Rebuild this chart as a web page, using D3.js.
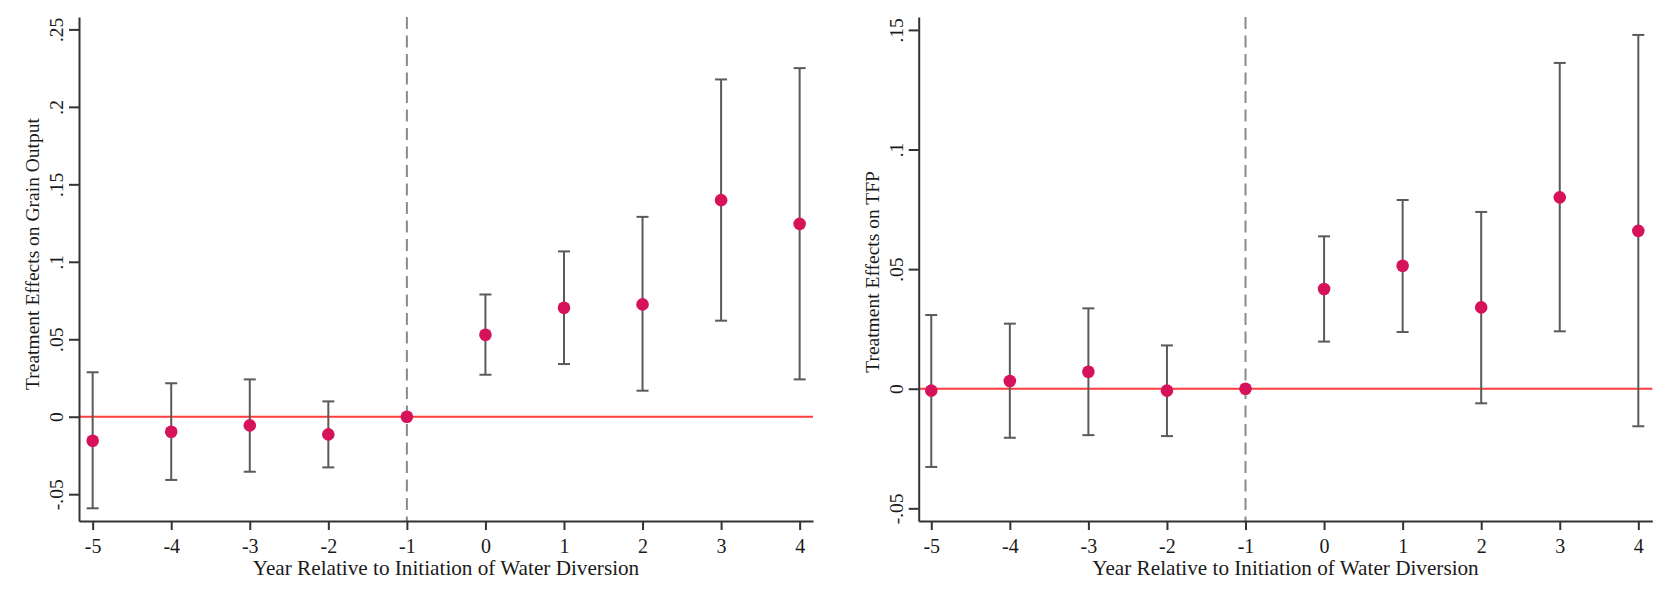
<!DOCTYPE html>
<html>
<head>
<meta charset="utf-8">
<script src="https://cdn.jsdelivr.net/npm/d3@7"></script>
<style>
  html, body { margin: 0; padding: 0; background: #fff; }
  svg { display: block; }
  text { font-family: "Liberation Serif", "Times New Roman", serif; fill: #1a1a1a; }
</style>
</head>
<body>
<svg id="chart" width="1669" height="600"></svg>
<script>
// ---------- DATA ----------
const years = [-5, -4, -3, -2, -1, 0, 1, 2, 3, 4];

const grainEst = [-0.0155, -0.0097, -0.0056, -0.0114, 0, 0.0529, 0.0703, 0.0725, 0.1398, 0.1245];
const grainLo  = [-0.0591, -0.0408, -0.0355, -0.0327, null, 0.0271, 0.0340, 0.0168, 0.0620, 0.0241];
const grainHi  = [ 0.0287,  0.0216,  0.0241,  0.0099, null, 0.0789, 0.1067, 0.1290, 0.2177, 0.2250];

const tfpEst = [-0.0008, 0.0032, 0.0071, -0.0008, 0, 0.0417, 0.0514, 0.0340, 0.0800, 0.0660];
const tfpLo  = [-0.0327, -0.0205, -0.0194, -0.0198, null, 0.0197, 0.0237, -0.0061, 0.0240, -0.0157];
const tfpHi  = [ 0.0308,  0.0272,  0.0336,  0.0181, null, 0.0637, 0.0789, 0.0739, 0.1362, 0.1479];

const grainTicks = [-0.05, 0, 0.05, 0.1, 0.15, 0.2, 0.25];
const tfpTicks   = [-0.05, 0, 0.05, 0.1, 0.15];

const xTitle = "Year Relative to Initiation of Water Diversion";
const grainTitle = "Treatment Effects on Grain Output";
const tfpTitle = "Treatment Effects on TFP";
const refYear = -1;

// ---------- DRAW ----------
const svg = d3.select("#chart");
const FONT = "Liberation Serif, Times New Roman, serif";

function fmtY(v) {
  if (Math.abs(v) < 1e-12) return "0";
  let s = String(+v.toFixed(3));
  return s.replace(/^(-?)0\./, "$1.");
}

function panel(cfg) {
  const g = svg.append("g");
  const x = d3.scaleLinear().domain(cfg.xDomain).range([cfg.left, cfg.right]);
  const y = d3.scaleLinear().domain(cfg.yDomain).range([cfg.bottom, cfg.top]);

  // y = 0 reference line
  g.append("line")
    .attr("x1", cfg.left).attr("x2", cfg.right)
    .attr("y1", y(0)).attr("y2", y(0))
    .attr("stroke", "#ff3b3b").attr("stroke-width", 2);

  // dashed vertical line at reference year
  g.append("line")
    .attr("x1", x(refYear)).attr("x2", x(refYear))
    .attr("y1", cfg.top).attr("y2", cfg.bottom)
    .attr("stroke", "#8a8a8a").attr("stroke-width", 2)
    .attr("stroke-dasharray", "12,6.5");

  // error bars
  const ci = years.map((yr, i) => ({yr, lo: cfg.lo[i], hi: cfg.hi[i]})).filter(d => d.lo != null);
  const eb = g.append("g").attr("stroke", "#5a5a5a").attr("stroke-width", 2);
  eb.selectAll("line.v").data(ci).join("line")
    .attr("x1", d => x(d.yr)).attr("x2", d => x(d.yr))
    .attr("y1", d => y(d.lo)).attr("y2", d => y(d.hi));
  eb.selectAll("line.hi").data(ci).join("line")
    .attr("x1", d => x(d.yr) - 6).attr("x2", d => x(d.yr) + 6)
    .attr("y1", d => y(d.hi)).attr("y2", d => y(d.hi));
  eb.selectAll("line.lo").data(ci).join("line")
    .attr("x1", d => x(d.yr) - 6).attr("x2", d => x(d.yr) + 6)
    .attr("y1", d => y(d.lo)).attr("y2", d => y(d.lo));

  // points
  g.selectAll("circle").data(years.map((yr, i) => ({yr, v: cfg.est[i]}))).join("circle")
    .attr("cx", d => x(d.yr)).attr("cy", d => y(d.v))
    .attr("r", 6.3).attr("fill", "#d6125a");

  // x axis
  const xa = g.append("g").attr("transform", `translate(0,${cfg.bottom})`)
    .call(d3.axisBottom(x).tickValues(years).tickFormat(d => String(d)).tickSize(9).tickSizeOuter(0));
  xa.select(".domain").attr("stroke", "#333").attr("stroke-width", 2);
  xa.selectAll(".tick line").attr("stroke", "#333").attr("stroke-width", 2);
  xa.selectAll(".tick text").attr("font-size", 20).attr("dy", "0.98em")
    .attr("font-family", FONT).attr("fill", "#1a1a1a");

  // y axis
  const ya = g.append("g").attr("transform", `translate(${cfg.left},0)`)
    .call(d3.axisLeft(y).tickValues(cfg.ticks).tickFormat(fmtY).tickSize(10).tickSizeOuter(0));
  ya.select(".domain").attr("stroke", "#333").attr("stroke-width", 2);
  ya.selectAll(".tick line").attr("stroke", "#333").attr("stroke-width", 2);
  ya.selectAll(".tick text")
    .attr("font-size", 19.5)
    .attr("font-family", FONT).attr("fill", "#1a1a1a")
    .attr("x", null).attr("dy", null)
    .attr("text-anchor", "middle")
    .attr("transform", "translate(-16,0) rotate(-90)");

  // axis titles
  g.append("text")
    .attr("x", (cfg.left + cfg.right) / 2).attr("y", 575)
    .attr("text-anchor", "middle").attr("font-size", 21.2)
    .text(xTitle);
  g.append("text")
    .attr("transform", `translate(${cfg.left - 40},${cfg.yTitleCenter}) rotate(-90)`)
    .attr("text-anchor", "middle").attr("font-size", 19.5)
    .text(cfg.yTitle);
}

panel({
  left: 79, right: 813, top: 17, bottom: 521,
  xDomain: [-5.174, 4.17], yDomain: [-0.0673, 0.258],
  est: grainEst, lo: grainLo, hi: grainHi, ticks: grainTicks,
  yTitle: grainTitle, yTitleCenter: 254
});

panel({
  left: 918.7, right: 1652.3, top: 17, bottom: 521,
  xDomain: [-5.16, 4.178], yDomain: [-0.0553, 0.1554],
  est: tfpEst, lo: tfpLo, hi: tfpHi, ticks: tfpTicks,
  yTitle: tfpTitle, yTitleCenter: 272
});
</script>
</body>
</html>
